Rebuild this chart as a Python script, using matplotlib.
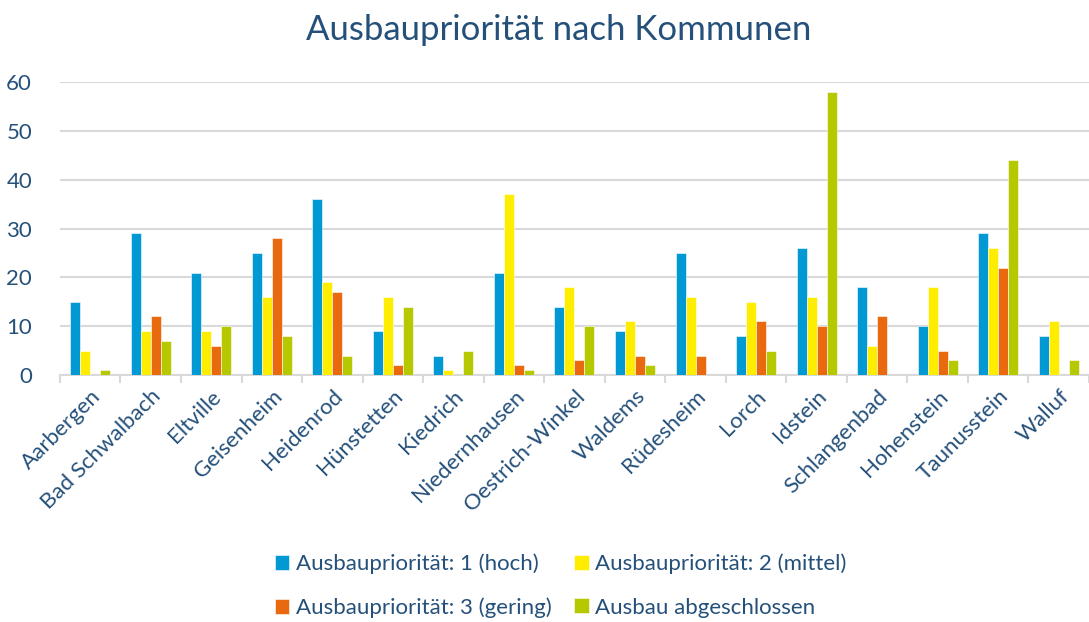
import numpy as np
import matplotlib.pyplot as plt
from matplotlib.ticker import MultipleLocator, FixedLocator

# municipalities and counts per expansion priority
kommunen = ['Aarbergen', 'Bad Schwalbach', 'Eltville', 'Geisenheim', 'Heidenrod',
            'Hünstetten', 'Kiedrich', 'Niedernhausen', 'Oestrich-Winkel', 'Waldems',
            'Rüdesheim', 'Lorch', 'Idstein', 'Schlangenbad', 'Hohenstein',
            'Taunusstein', 'Walluf']
prio_hoch = [15, 29, 21, 25, 36, 9, 4, 21, 14, 9, 25, 8, 26, 18, 10, 29, 8]
prio_mittel = [5, 9, 9, 16, 19, 16, 1, 37, 18, 11, 16, 15, 16, 6, 18, 26, 11]
prio_gering = [0, 12, 6, 28, 17, 2, 0, 2, 3, 4, 4, 11, 10, 12, 5, 22, 0]
abgeschlossen = [1, 7, 10, 8, 4, 14, 5, 1, 10, 2, 0, 5, 58, 0, 3, 44, 3]

series = [
    ('Ausbaupriorität: 1 (hoch)', prio_hoch, '#0099d4'),
    ('Ausbaupriorität: 2 (mittel)', prio_mittel, '#ffed00'),
    ('Ausbaupriorität: 3 (gering)', prio_gering, '#e8690e'),
    ('Ausbau abgeschlossen', abgeschlossen, '#b5c800'),
]

text_col = '#24507a'
plt.rcParams['font.family'] = ['Lato', 'DejaVu Sans']

fig = plt.figure(figsize=(10.89, 6.22), dpi=100)
ax = fig.add_axes([0.055, 0.397, 0.945, 0.471])

x = np.arange(len(kommunen))
w = 0.165
bars = []
for i, (name, vals, col) in enumerate(series):
    b = ax.bar(x + (i - 1.5) * w, vals, w, color=col, label=name,
               edgecolor='white', linewidth=0.4, zorder=3)
    bars.append(b)

ax.set_xlim(-0.5, len(kommunen) - 0.5)
ax.set_ylim(0, 60)
ax.yaxis.set_major_locator(MultipleLocator(10))
ax.yaxis.grid(True, color='#d9d9d9', linewidth=1.5, zorder=0)

for s in ['top', 'right', 'left']:
    ax.spines[s].set_visible(False)
ax.spines['bottom'].set_color('#d9d9d9')
ax.spines['bottom'].set_linewidth(1.5)

ax.set_xticks(x)
ax.set_xticklabels(kommunen, rotation=45, ha='right', rotation_mode='anchor',
                   fontsize=16, color=text_col)
ax.tick_params(axis='x', which='major', length=0, pad=8)
ax.xaxis.set_minor_locator(FixedLocator(np.arange(-0.5, len(kommunen), 1)))
ax.tick_params(axis='x', which='minor', length=6, width=1.5, color='#d9d9d9')
ax.tick_params(axis='y', length=0, labelsize=16, labelcolor=text_col, pad=20)

fig.text(0.513, 0.952, 'Ausbaupriorität nach Kommunen', ha='center', va='center',
         fontsize=25, color=text_col)

# row-wise legend order
order = [0, 2, 1, 3]
fig.legend([bars[k] for k in order], [series[k][0] for k in order],
           loc='center', bbox_to_anchor=(0.515, 0.058), ncol=2, frameon=False,
           fontsize=16, labelcolor=text_col, handlelength=0.65, handleheight=0.65,
           handletextpad=0.3, columnspacing=1.0, labelspacing=1.05)

fig.savefig('out.png', dpi=100)
